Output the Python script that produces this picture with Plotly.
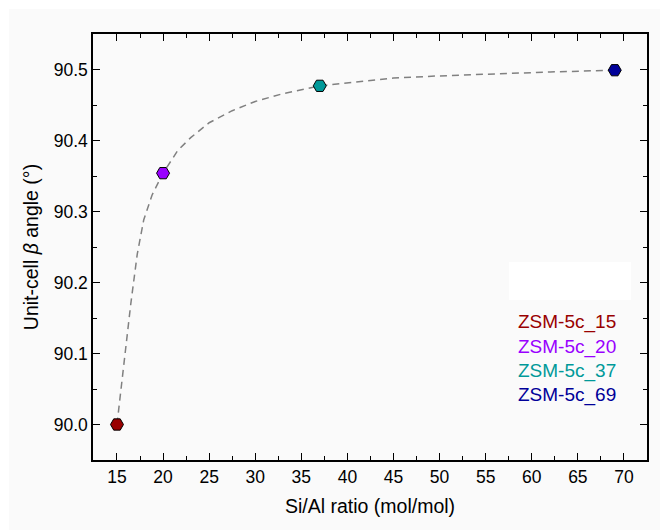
import plotly.graph_objects as go

# Data
sample_names = ["ZSM-5c_15", "ZSM-5c_20", "ZSM-5c_37", "ZSM-5c_69"]
si_al_ratio = [15, 20, 37, 69]
beta_angle = [90.000, 90.354, 90.477, 90.499]
sample_colors = ["#990000", "#9900FF", "#009999", "#000099"]

# Fitted trend curve
fit_x = [15, 15.3, 15.7, 16.0, 16.5, 17.2, 17.9, 18.8, 20, 21.6, 23, 25, 27.5,
         30, 33, 37, 41, 45, 50, 56, 62, 69]
fit_y = [90.000, 90.035, 90.080, 90.110, 90.170, 90.240, 90.288, 90.323, 90.354,
         90.386, 90.404, 90.425, 90.442, 90.455, 90.466, 90.477, 90.483, 90.488,
         90.491, 90.494, 90.4965, 90.499]

x_ticks = [15, 20, 25, 30, 35, 40, 45, 50, 55, 60, 65, 70]
y_ticks = [90.0, 90.1, 90.2, 90.3, 90.4, 90.5]

FONT = "Liberation Sans, Arial, sans-serif"

fig = go.Figure()

fig.add_trace(go.Scatter(
    x=fit_x, y=fit_y, mode="lines",
    line=dict(color="#808080", width=1.5, dash="7px,5px"),
    showlegend=False, hoverinfo="skip"))

fig.add_trace(go.Scatter(
    x=si_al_ratio, y=beta_angle, mode="markers",
    marker=dict(symbol="hexagon2", size=13, color=sample_colors,
                line=dict(color="black", width=1)),
    showlegend=False))

W, H = 660, 530
L, R, T, B = 93, 13, 34, 70
pw, ph = W - L - R, H - T - B

def px_x(p):
    return (p - L) / pw

def px_y(p):
    return (H - B - p) / ph

shapes = [
    dict(type="rect", xref="paper", yref="paper", layer="below",
         x0=px_x(9), x1=px_x(W + 5), y0=px_y(9), y1=px_y(H + 5),
         fillcolor="#fafafa", line=dict(width=0)),
    dict(type="rect", xref="paper", yref="paper", layer="below",
         x0=px_x(509), x1=px_x(631), y0=px_y(300), y1=px_y(262),
         fillcolor="white", line=dict(width=0)),
]

annotations = []
legend_y_px = [322, 347, 371, 395]
for name, col, yp in zip(sample_names, sample_colors, legend_y_px):
    annotations.append(dict(
        text=name, xref="paper", yref="paper", x=px_x(516), y=px_y(yp),
        xanchor="left", yanchor="middle", showarrow=False,
        font=dict(family=FONT, size=19, color=col)))

axis_common = dict(
    showline=True, linecolor="black", linewidth=1.5, mirror="ticks",
    ticks="inside", ticklen=7, tickwidth=1.3, tickcolor="black",
    showgrid=False, zeroline=False,
    tickfont=dict(family=FONT, size=17.5, color="black"),
)

fig.update_layout(
    width=W, height=H,
    margin=dict(l=L, r=R, t=T, b=B),
    paper_bgcolor="white",
    plot_bgcolor="rgba(0,0,0,0)",
    shapes=shapes,
    annotations=annotations,
    xaxis=dict(
        **axis_common,
        range=[12.4, 72.5],
        tickvals=x_ticks,
        minor=dict(ticks="inside", ticklen=4, tickwidth=1.2, tickcolor="black", dtick=2.5, tick0=12.5),
        title=dict(text="Si/Al ratio (mol/mol)", font=dict(family=FONT, size=19.5, color="black"), standoff=14),
    ),
    yaxis=dict(
        **axis_common,
        range=[89.95, 90.55],
        tickvals=y_ticks,
        tickformat=".1f",
        minor=dict(ticks="inside", ticklen=4, tickwidth=1.2, tickcolor="black", dtick=0.05, tick0=89.95),
        title=dict(text="Unit-cell <i>β</i> angle (°)", font=dict(family=FONT, size=19.5, color="black"), standoff=10),
    ),
)

fig.write_html("out.html")
